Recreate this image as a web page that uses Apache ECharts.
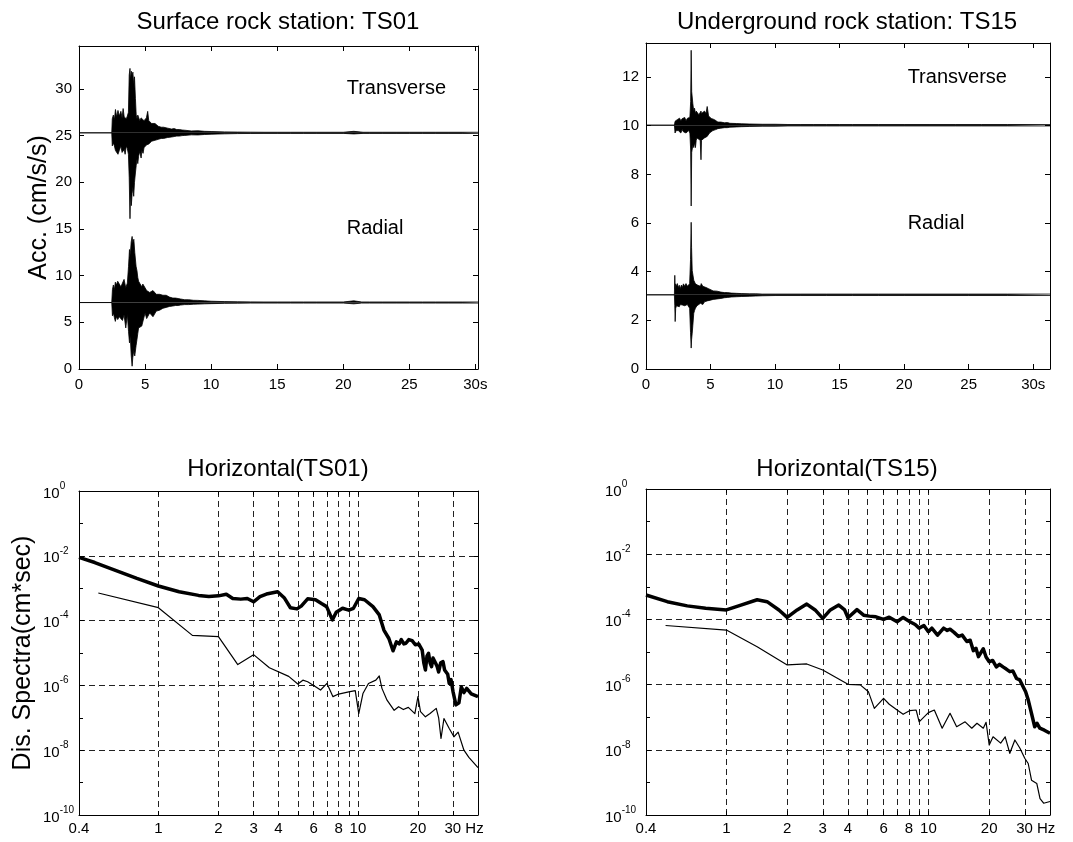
<!DOCTYPE html>
<html>
<head>
<meta charset="utf-8">
<script src="https://cdn.jsdelivr.net/npm/echarts@6/dist/echarts.min.js"></script>
<style>html,body{margin:0;padding:0;background:#fff}#c{width:1073px;height:842px}</style>
</head>
<body>
<div id="c"></div>
<script>
// ---------------- DATA ----------------
const TIME_TICKS = [0, 5, 10, 15, 20, 25, 30];
const ACC01_TICKS = [0, 5, 10, 15, 20, 25, 30];
const ACC15_TICKS = [0, 2, 4, 6, 8, 10, 12];
const FREQ_GRID = [1, 2, 3, 4, 5, 6, 7, 8, 9, 10, 20, 30];
const FREQ_LABELS = [0.4, 1, 2, 3, 4, 6, 8, 10, 20, 30];

// trace baselines (plotting offsets, cm/s/s)
const TS01_TRANS_BASE = 25.3;
const TS01_RAD_BASE = 7.12;
const TS15_TRANS_BASE = 10.02;
const TS15_RAD_BASE = 3.05;

// Acceleration traces: [time s, upper envelope, lower envelope]
const ts01Transverse = [
 [0,25.3,25.3],[2.48,25.3,25.3],[2.52,26.8,23.9],[2.6,27.2,24.2],[2.68,26.7,23.9],[2.76,27.8,23.4],
 [2.85,27.0,23.5],[2.95,27.7,23.0],[3.05,27.1,23.4],[3.17,27.6,23.9],[3.26,26.9,23.2],[3.34,27.9,23.3],
 [3.42,27.0,23.5],[3.49,27.1,23.0],[3.58,26.8,23.9],[3.66,27.1,23.6],[3.74,27.5,23.0],[3.8,31.5,20.5],
 [3.86,32.2,16.1],[3.9,31.0,19.0],[3.96,31.9,17.5],[4.02,31.4,18.8],[4.08,31.8,19.5],[4.14,30.5,18.5],
 [4.2,31.3,20.0],[4.27,29.0,21.0],[4.33,27.2,21.8],[4.39,26.8,22.5],[4.45,27.2,22.0],[4.51,27.1,22.8],
 [4.6,26.6,23.3],[4.7,26.9,22.6],[4.76,26.7,23.4],[4.85,27.0,23.1],[4.92,26.6,23.7],[5.0,26.7,23.7],
 [5.1,26.9,24.0],[5.2,27.6,24.2],[5.28,26.6,24.1],[5.37,26.5,24.1],[5.5,26.3,24.4],[5.61,26.2,24.4],
 [5.75,26.3,24.5],[5.85,26.1,24.6],[6.0,26.0,24.6],[6.1,26.1,24.7],[6.22,25.9,24.7],[6.4,25.9,24.7],
 [6.55,25.95,24.8],[6.71,25.8,24.8],[6.85,25.8,24.85],[7.0,25.7,24.85],[7.2,25.75,24.9],[7.4,25.65,24.95],
 [7.6,25.65,24.95],[7.8,25.6,25.0],[8.0,25.58,25.02],[8.5,25.5,25.08],[9.0,25.52,25.07],[9.5,25.46,25.12],
 [10,25.44,25.15],[11,25.4,25.19],[12,25.38,25.22],[13,25.37,25.23],[14,25.36,25.24],[15,25.36,25.24],
 [16,25.36,25.24],[17,25.36,25.24],[18,25.36,25.24],[19,25.36,25.24],[20,25.36,25.24],[20.8,25.46,25.18],
 [21.5,25.36,25.24],[22,25.36,25.24],[23,25.36,25.24],[24,25.36,25.24],[25,25.36,25.24],[26,25.36,25.24],
 [27,25.36,25.24],[28,25.36,25.24],[29,25.36,25.24],[30.2,25.36,25.24]
];
const ts01Radial = [
 [0,7.12,7.12],[2.48,7.12,7.12],[2.53,8.5,5.7],[2.6,9.0,6.0],[2.68,8.5,5.5],[2.75,9.3,5.1],[2.83,9.0,5.6],
 [2.93,9.4,5.3],[3.05,9.1,5.6],[3.17,8.8,5.7],[3.29,9.2,5.2],[3.41,9.6,5.8],[3.54,8.7,4.4],[3.66,9.2,5.85],
 [3.75,11.0,4.0],[3.82,12.8,2.8],[3.88,12.2,3.5],[3.95,13.6,1.5],[4.02,14.2,0.3],[4.07,13.5,1.2],
 [4.15,13.9,2.0],[4.22,12.5,1.4],[4.32,11.0,2.5],[4.39,10.5,3.2],[4.45,9.8,3.8],[4.51,9.4,4.4],
 [4.63,9.2,4.2],[4.75,8.8,4.6],[4.83,9.1,4.8],[5.0,8.7,6.0],[5.12,8.4,5.4],[5.24,8.5,5.5],[5.35,8.2,6.0],
 [5.49,8.2,6.0],[5.6,8.4,5.6],[5.73,8.35,5.7],[5.85,8.0,6.2],[5.98,7.8,6.4],[6.1,8.0,6.3],[6.22,8.1,6.4],
 [6.35,7.9,6.5],[6.46,8.1,6.4],[6.6,7.9,6.6],[6.71,7.8,6.7],[6.85,7.7,6.7],[6.95,7.65,6.75],[7.1,7.6,6.75],
 [7.3,7.6,6.8],[7.5,7.55,6.8],[7.68,7.5,6.85],[8.0,7.42,6.9],[8.3,7.42,6.9],[8.66,7.36,6.94],[9.0,7.35,6.95],
 [9.5,7.3,6.98],[10,7.26,7.0],[11,7.22,7.03],[12,7.2,7.05],[13,7.19,7.06],[14,7.18,7.06],[15,7.18,7.06],
 [16,7.18,7.06],[17,7.18,7.06],[18,7.18,7.06],[19,7.18,7.06],[20,7.18,7.06],[20.8,7.3,6.98],[21.4,7.18,7.06],
 [22,7.18,7.06],[23,7.18,7.06],[24,7.18,7.06],[25,7.18,7.06],[26,7.18,7.06],[27,7.18,7.06],[28,7.18,7.06],
 [29,7.18,7.06],[30.2,7.18,7.06]
];
const ts15Transverse = [
 [0,10.02,10.02],[2.2,10.02,10.02],[2.25,10.18,9.7],[2.34,10.1,9.8],[2.42,10.25,9.72],[2.5,10.2,9.8],[2.6,10.31,9.77],
 [2.7,10.2,9.7],[2.8,10.29,9.84],[2.9,10.25,9.75],[3.0,10.34,9.8],[3.1,10.2,9.7],[3.2,10.3,9.77],
 [3.3,10.25,9.8],[3.4,10.35,9.7],[3.46,11.0,9.0],[3.5,13.1,6.7],[3.54,11.4,8.9],[3.58,11.4,8.95],
 [3.63,10.9,9.2],[3.7,10.6,9.1],[3.76,10.72,9.3],[3.83,10.5,9.1],[3.89,10.6,9.4],[3.95,10.55,9.5],
 [4.02,10.58,9.45],[4.1,10.45,9.5],[4.2,10.52,9.4],[4.26,10.6,8.6],[4.3,10.5,9.4],[4.4,10.45,9.43],
 [4.53,10.6,9.5],[4.65,10.5,9.43],[4.74,10.79,9.56],[4.85,10.4,9.6],[4.92,10.38,9.7],[5.05,10.3,9.77],
 [5.18,10.24,9.8],[5.3,10.25,9.82],[5.4,10.2,9.84],[5.57,10.15,9.88],[5.7,10.17,9.88],[5.8,10.15,9.9],
 [6.09,10.12,9.92],[6.3,10.13,9.92],[6.5,10.1,9.94],[7.0,10.09,9.95],[7.38,10.08,9.96],[8,10.07,9.97],
 [9,10.06,9.98],[10,10.06,9.98],[11,10.05,9.99],[12,10.05,9.99],[13,10.05,9.99],[14,10.05,9.99],
 [15,10.05,9.99],[16,10.05,9.99],[18,10.05,9.99],[20,10.05,9.99],[22,10.05,9.99],[24,10.05,9.99],
 [26,10.05,9.99],[28,10.05,9.99],[31.3,10.05,9.99]
];
const ts15Radial = [
 [0,3.05,3.05],[2.2,3.05,3.05],[2.23,3.85,2.6],[2.26,3.3,1.95],[2.3,3.5,2.49],[2.36,3.4,2.6],[2.43,3.51,2.55],
 [2.5,3.35,2.6],[2.58,3.44,2.56],[2.66,3.3,2.65],[2.74,3.45,2.6],[2.82,3.35,2.63],[2.9,3.5,2.55],
 [3.0,3.4,2.6],[3.1,3.51,2.63],[3.2,3.4,2.65],[3.3,3.45,2.6],[3.38,3.5,2.5],[3.45,4.5,1.5],[3.5,6.03,0.86],
 [3.53,5.0,1.2],[3.58,4.05,1.47],[3.63,4.05,1.8],[3.7,3.65,2.29],[3.76,3.65,2.4],[3.83,3.5,2.5],
 [3.89,3.54,2.49],[3.95,3.45,2.6],[4.02,3.44,2.56],[4.1,3.5,2.6],[4.15,3.5,2.6],[4.22,3.4,2.7],
 [4.28,3.51,2.69],[4.4,3.4,2.65],[4.53,3.37,2.76],[4.65,3.35,2.8],[4.74,3.31,2.8],[4.85,3.3,2.82],
 [5.0,3.25,2.83],[5.2,3.21,2.86],[5.35,3.22,2.87],[5.5,3.2,2.88],[5.8,3.16,2.9],[6.09,3.14,2.93],
 [6.3,3.14,2.94],[6.6,3.12,2.96],[7.0,3.11,2.97],[7.38,3.1,2.98],[8,3.09,2.99],[8.5,3.09,3.0],[9,3.08,3.01],
 [10,3.08,3.02],[11,3.08,3.02],[12,3.08,3.02],[14,3.08,3.02],[16,3.08,3.02],[18,3.08,3.02],[20,3.08,3.02],
 [22,3.08,3.02],[25,3.08,3.02],[28,3.08,3.02],[31.3,3.08,3.02]
];

// Displacement spectra: [frequency Hz, cm*sec]
const ts01SpecThick = [
 [0.4,8.9e-3],[0.48,6.2e-3],[0.6,3.7e-3],[0.78,2.0e-3],[1.0,1.17e-3],[1.27,7.8e-4],[1.59,6.0e-4],
 [1.79,5.5e-4],[2.0,5.8e-4],[2.19,6.5e-4],[2.36,4.8e-4],[2.59,4.6e-4],[2.79,4.8e-4],[3.0,3.8e-4],
 [3.23,5.5e-4],[3.48,6.6e-4],[3.96,7.8e-4],[4.27,5.1e-4],[4.59,2.5e-4],[4.95,2.3e-4],[5.2,2.8e-4],
 [5.6,4.7e-4],[6.13,4.4e-4],[6.6,3.3e-4],[6.97,2.7e-4],[7.45,1.05e-4],[7.79,1.8e-4],[8.38,2.4e-4],
 [9.0,2.1e-4],[9.5,2.4e-4],[10.1,4.8e-4],[10.8,4.4e-4],[11.9,2.7e-4],[12.8,1.5e-4],[13.5,5.1e-5],
 [14.3,2.8e-5],[15.0,1.17e-5],[15.6,2.2e-5],[16.1,1.9e-5],[16.5,2.6e-5],[17.0,1.9e-5],[17.4,2.0e-5],
 [18.0,2.6e-5],[18.7,2.4e-5],[19.4,1.8e-5],[20.2,1.9e-5],[21.0,1.23e-5],[21.4,5e-6],[21.8,3.0e-6],
 [22.2,8e-6],[22.6,9.8e-6],[23.0,5e-6],[23.4,3.8e-6],[23.8,7e-6],[24.3,7.8e-6],[24.9,4e-6],[25.4,2.6e-6],
 [26.0,5e-6],[26.7,5.4e-6],[27.2,3e-6],[27.7,3.4e-6],[28.2,2.2e-6],[28.7,1.15e-6],[29.3,1.5e-6],
 [30.0,6.3e-7],[31.0,2.5e-7],[32.1,2.9e-7],[33.0,9e-7],[34.0,6e-7],[35.1,8.1e-7],[37.0,5.5e-7],[40,4.5e-7]
];
const ts01SpecThin = [
 [0.5,7.1e-4],[1.0,2.5e-4],[1.48,3.5e-5],[2.0,3.2e-5],[2.5,4.4e-6],[3.0,8.9e-6],[3.6,3.5e-6],[4.5,1.9e-6],
 [5.0,1.1e-6],[5.3,1.45e-6],[5.6,1.3e-6],[6.0,1.0e-6],[6.5,7.2e-7],[7.0,1.15e-6],[7.5,4.5e-7],[8.0,5.4e-7],
 [9.0,6.3e-7],[9.7,6.9e-7],[10.1,1.35e-7],[10.6,5.6e-7],[11.3,1.15e-6],[12.3,1.45e-6],[12.8,1.95e-6],
 [13.2,8.1e-7],[14.0,3.5e-7],[15.2,1.7e-7],[16.0,2.2e-7],[16.9,1.8e-7],[17.9,2.1e-7],[19.3,1.35e-7],
 [20.0,4.5e-7],[20.6,1.55e-7],[21.8,1.07e-7],[23.0,1.35e-7],[24.7,1.95e-7],[25.4,1.0e-7],[26.1,2.3e-8],
 [27.0,9.5e-8],[28.7,4.7e-8],[30.3,2.6e-8],[31.8,3.6e-8],[34,1.0e-8],[36,6e-9],[40,2.9e-9]
];
const ts15SpecThick = [
 [0.4,5.6e-4],[0.51,3.5e-4],[0.64,2.6e-4],[0.79,2.2e-4],[1.0,1.95e-4],[1.18,2.75e-4],[1.42,4.0e-4],
 [1.59,3.5e-4],[1.82,1.95e-4],[2.0,1.15e-4],[2.24,1.95e-4],[2.5,2.95e-4],[2.75,1.95e-4],[3.0,1.07e-4],
 [3.27,1.95e-4],[3.6,2.75e-4],[3.85,1.95e-4],[4.0,1.12e-4],[4.43,2.0e-4],[4.78,1.35e-4],[5.1,1.26e-4],
 [5.5,1.2e-4],[6.0,1.0e-4],[6.4,1.17e-4],[7.0,8.5e-5],[7.5,1.15e-4],[8.1,8.5e-5],[8.6,7.0e-5],[9.0,5.4e-5],
 [9.5,6.5e-5],[10,4.2e-5],[10.4,5.4e-5],[11.1,3.3e-5],[11.9,5.4e-5],[12.4,4.6e-5],[12.8,5.0e-5],[13.4,4.0e-5],
 [14.1,3.0e-5],[14.7,3.3e-5],[15.5,2.1e-5],[16.1,2.3e-5],[16.7,1.1e-5],[17.2,1.3e-5],[17.7,7.2e-6],
 [18.7,1.26e-5],[19.3,7.0e-6],[20,5.0e-6],[20.8,5.5e-6],[21.7,3.5e-6],[22.5,4.2e-6],[23.4,3.5e-6],
 [24.3,3.0e-6],[25.3,2.5e-6],[26.2,2.6e-6],[27.3,1.55e-6],[28.3,1.4e-6],[29.4,8.7e-7],[30.3,6e-7],
 [31.2,3.4e-7],[32.4,1.3e-7],[33.6,5.1e-8],[34.5,6.5e-8],[35.6,4.6e-8],[37.5,4.0e-8],[40,3.2e-8]
];
const ts15SpecThin = [
 [0.5,6.5e-5],[1.0,4.7e-5],[1.42,1.45e-5],[2.0,4.0e-6],[2.5,4.3e-6],[3.0,2.8e-6],[4.0,1.02e-6],[4.6,9.8e-7],
 [5.05,6.0e-7],[5.4,1.86e-7],[6.0,3.8e-7],[6.4,2.5e-7],[7.0,1.66e-7],[7.5,1.23e-7],[8.1,1.6e-7],
 [8.7,1.66e-7],[9.0,7.2e-8],[10,1.38e-7],[10.7,1.66e-7],[11.7,4.6e-8],[12.8,1.32e-7],[13.8,5.1e-8],
 [15.2,7.2e-8],[16.4,4.6e-8],[17.4,6.5e-8],[18.7,4.6e-8],[19.3,7.0e-8],[20,1.4e-8],[20.9,2.5e-8],
 [22.8,1.6e-8],[24.0,2.5e-8],[25.3,7.8e-9],[26.8,2.0e-8],[28.4,1.12e-8],[30.0,5.5e-9],[31.2,3.8e-9],
 [32.4,1.17e-9],[34.4,9.3e-10],[35.7,3.2e-10],[37.2,2.3e-10],[40,2.6e-10]
];

// ---------------- CHART ----------------
const FONT = '"Liberation Sans", Arial, Helvetica, sans-serif';
const AX = { color: '#000', width: 1 };
const GRIDLINE = { color: '#222', width: 1, type: [6, 4] };
const TICK_FS = 15;

function linX(gi, max, pos, ticks, showLabel) {
  return {
    type: 'value', gridIndex: gi, min: 0, max: max, position: pos,
    axisLine: { show: true, onZero: false, lineStyle: AX },
    axisTick: { show: true, inside: true, length: 5, customValues: ticks, lineStyle: AX },
    axisLabel: { show: showLabel, customValues: ticks, margin: 8, fontSize: TICK_FS, color: '#000', fontFamily: FONT,
      formatter: v => (v === 30 ? '30s' : String(v)) },
    splitLine: { show: false }
  };
}
function linY(gi, max, pos, ticks, showLabel, name, nameGap) {
  return {
    type: 'value', gridIndex: gi, min: 0, max: max, position: pos,
    axisLine: { show: true, onZero: false, lineStyle: AX },
    axisTick: { show: true, inside: true, length: 5, customValues: ticks, lineStyle: AX },
    axisLabel: { show: showLabel, customValues: ticks, margin: 7, fontSize: TICK_FS, color: '#000', fontFamily: FONT },
    splitLine: { show: false },
    name: name || '', nameLocation: 'middle', nameGap: nameGap || 0, nameRotate: 90, nameMoveOverlap: false,
    nameTextStyle: { fontSize: 25, color: '#000', fontFamily: FONT }
  };
}
function logX(gi, pos, main) {
  return {
    type: 'log', logBase: 10, gridIndex: gi, min: 0.4, max: 40, position: pos,
    axisLine: { show: true, onZero: false, lineStyle: AX },
    axisTick: { show: true, inside: true, length: 4, customValues: FREQ_GRID, lineStyle: AX },
    axisLabel: { show: main, customValues: FREQ_LABELS, margin: 6, fontSize: TICK_FS, color: '#000', fontFamily: FONT,
      formatter: v => { const r = Math.round(v * 10) / 10; return r === 30 ? '{p| }30 Hz' : String(r); },
      rich: { p: { width: 22, fontSize: TICK_FS } } },
    splitLine: { show: main, lineStyle: GRIDLINE },
    minorTick: { show: false }
  };
}
function logY(gi, pos, interval, main, line, name, nameGap, labelMargin) {
  return {
    type: 'log', logBase: 10, gridIndex: gi, min: 1e-10, max: 1, interval: interval, position: pos,
    axisLine: { show: line, onZero: false, lineStyle: AX },
    axisTick: { show: true, inside: true, length: main ? 5 : 4, lineStyle: AX },
    axisLabel: { show: main, align: 'left', margin: labelMargin || 36,
      formatter: v => '{b|10}{s|' + Math.round(Math.log10(v)) + '}',
      rich: { b: { fontSize: TICK_FS, padding: [5, 0, 0, 0], verticalAlign: 'bottom', color: '#000', fontFamily: FONT },
              s: { fontSize: 10, verticalAlign: 'top', color: '#000', fontFamily: FONT } } },
    splitLine: { show: main, lineStyle: GRIDLINE },
    minorTick: { show: false },
    name: name || '', nameLocation: 'middle', nameGap: nameGap || 0, nameRotate: 90, nameMoveOverlap: false,
    nameTextStyle: { fontSize: 25, color: '#000', fontFamily: FONT }
  };
}
// one trace = upper envelope filled down to baseline + lower envelope filled up to baseline
function wave(xi, yi, tr, base, label, coord) {
  const common = { type: 'line', xAxisIndex: xi, yAxisIndex: yi, showSymbol: false, symbol: 'none',
    lineStyle: { color: '#000', width: 0.8 }, areaStyle: { color: '#000', opacity: 1, origin: base },
    silent: true, animation: false };
  const upper = Object.assign({}, common, {
    data: tr.map(p => [p[0], p[1]]),
    markPoint: { symbol: 'circle', symbolSize: 1, itemStyle: { color: 'rgba(0,0,0,0)' }, silent: true,
      label: { show: true, position: 'right', distance: 3, color: '#000', fontSize: 20, fontFamily: FONT, formatter: label },
      data: [{ coord: coord, value: label }] }
  });
  const lower = Object.assign({}, common, { data: tr.map(p => [p[0], p[2]]) });
  return [upper, lower];
}
function spec(xi, yi, data, w) {
  return { type: 'line', xAxisIndex: xi, yAxisIndex: yi, data: data, showSymbol: false, symbol: 'none',
    lineStyle: { color: '#000', width: w, join: 'round' }, silent: true, animation: false };
}
const titleStyle = { fontSize: 24, fontWeight: 'normal', color: '#000', fontFamily: FONT };

const option = {
  backgroundColor: '#fff',
  animation: false,
  textStyle: { fontFamily: FONT, color: '#000' },
  title: [
    { text: 'Surface rock station: TS01', left: 278, top: 10, textAlign: 'center', padding: 0, textStyle: titleStyle },
    { text: 'Underground rock station: TS15', left: 847, top: 10, textAlign: 'center', padding: 0, textStyle: titleStyle },
    { text: 'Horizontal(TS01)', left: 278, top: 457, textAlign: 'center', padding: 0, textStyle: titleStyle },
    { text: 'Horizontal(TS15)', left: 847, top: 457, textAlign: 'center', padding: 0, textStyle: titleStyle }
  ],
  grid: [
    { left: 79, top: 46, width: 399, height: 323, outerBoundsMode: 'none' },
    { left: 646, top: 43, width: 404, height: 326, outerBoundsMode: 'none' },
    { left: 79, top: 491, width: 399, height: 324, outerBoundsMode: 'none' },
    { left: 646, top: 489, width: 404, height: 326, outerBoundsMode: 'none' }
  ],
  xAxis: [
    linX(0, 30.2, 'bottom', TIME_TICKS, true),
    linX(0, 30.2, 'top', TIME_TICKS, false),
    linX(1, 31.3, 'bottom', TIME_TICKS, true),
    linX(1, 31.3, 'top', TIME_TICKS, false),
    logX(2, 'bottom', true),
    logX(2, 'top', false),
    logX(3, 'bottom', true),
    logX(3, 'top', false)
  ],
  yAxis: [
    linY(0, 34.6, 'left', ACC01_TICKS, true, 'Acc. (cm/s/s)', 27),
    linY(0, 34.6, 'right', ACC01_TICKS, false),
    linY(1, 13.4, 'left', ACC15_TICKS, true),
    linY(1, 13.4, 'right', ACC15_TICKS, false),
    logY(2, 'left', 2, true, true, 'Dis. Spectra(cm*sec)', 43, 36),
    logY(2, 'right', 1, false, true),
    logY(2, 'left', 1, false, false),
    logY(3, 'left', 2, true, true, '', 0, 41),
    logY(3, 'right', 1, false, true),
    logY(3, 'left', 1, false, false)
  ],
  series: [].concat(
    wave(0, 0, ts01Transverse, TS01_TRANS_BASE, 'Transverse', [20, 30]),
    wave(0, 0, ts01Radial, TS01_RAD_BASE, 'Radial', [20, 15]),
    wave(2, 2, ts15Transverse, TS15_TRANS_BASE, 'Transverse', [20, 12]),
    wave(2, 2, ts15Radial, TS15_RAD_BASE, 'Radial', [20, 6]),
    [spec(4, 4, ts01SpecThick, 3.5),
     spec(4, 4, ts01SpecThin, 1.2),
     spec(6, 7, ts15SpecThick, 3.5),
     spec(6, 7, ts15SpecThin, 1.2)]
  )
};
const chart = echarts.init(document.getElementById('c'), null, { renderer: 'canvas', width: 1073, height: 842 });
chart.setOption(option);
</script>
</body>
</html>
